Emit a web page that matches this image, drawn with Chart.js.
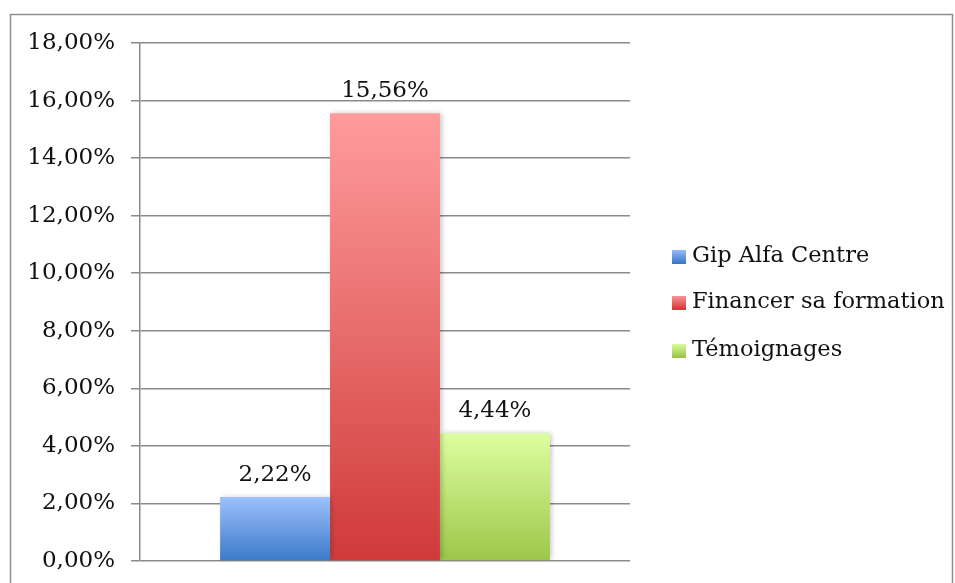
<!DOCTYPE html>
<html>
<head>
<meta charset="utf-8">
<script src="https://cdn.jsdelivr.net/npm/chart.js@4/dist/chart.umd.min.js"></script>
<style>
  html, body { margin: 0; padding: 0; background: #fff; }
  #wrap { position: relative; width: 955px; height: 583px; }
</style>
</head>
<body>
<div id="wrap"><canvas id="grafico" width="955" height="583"></canvas></div>
<script>
const categorias = [''];
const series = ['Gip Alfa Centre', 'Financer sa formation', 'Témoignages'];
const valores = [2.22, 15.56, 4.44];
const ejeY = { min: 0, max: 18, paso: 2 };

// degradados: [arriba, abajo]
const colores = [
  ['#9dc1fb', '#3b79c9'],
  ['#ff9c9c', '#cf3a39'],
  ['#deffa0', '#9cc649']
];

const FUENTE = "'DejaVu Serif', serif";
const fmt = v => v.toFixed(2).replace('.', ',') + '%';

function degradado(ctx) {
  const chart = ctx.chart;
  const par = colores[ctx.datasetIndex];
  const y = chart.scales.y;
  if (!chart.chartArea || !y) return par[0];
  const top = y.getPixelForValue(valores[ctx.datasetIndex]);
  const base = y.getPixelForValue(0);
  const g = chart.ctx.createLinearGradient(0, top, 0, base);
  g.addColorStop(0, par[0]);
  g.addColorStop(1, par[1]);
  return g;
}

const marco = {
  id: 'marco',
  beforeDraw(chart) {
    const c = chart.ctx;
    c.save();
    c.strokeStyle = '#8e8e8e';
    c.lineWidth = 1.5;
    c.strokeRect(10.5, 14.5, 942, 600);
    c.restore();
  }
};

const sombra = {
  id: 'sombra',
  beforeDatasetDraw(chart) {
    const c = chart.ctx;
    c.save();
    c.shadowColor = 'rgba(0,0,0,0.22)';
    c.shadowBlur = 5;
    c.shadowOffsetX = 2;
    c.shadowOffsetY = 0;
  },
  afterDatasetDraw(chart) {
    chart.ctx.restore();
  }
};

const etiquetas = {
  id: 'etiquetas',
  afterDatasetsDraw(chart) {
    const c = chart.ctx;
    c.save();
    c.font = '23px ' + FUENTE;
    c.fillStyle = '#111';
    c.textAlign = 'center';
    c.textBaseline = 'alphabetic';
    chart.data.datasets.forEach((ds, i) => {
      const el = chart.getDatasetMeta(i).data[0];
      c.fillText(fmt(ds.data[0]), el.x, el.y - 16);
    });
    c.restore();
  }
};

const leyenda = {
  id: 'leyenda',
  afterDraw(chart) {
    const c = chart.ctx;
    const ys = [256, 302, 350];
    c.save();
    c.font = '22.5px ' + FUENTE;
    c.fillStyle = '#111';
    c.textBaseline = 'middle';
    chart.data.datasets.forEach((ds, i) => {
      const y = ys[i];
      const g = c.createLinearGradient(0, y - 7, 0, y + 7);
      g.addColorStop(0, colores[i][0]);
      g.addColorStop(1, colores[i][1]);
      c.fillStyle = g;
      c.fillRect(672, y - 6, 14, 14);
      c.fillStyle = '#111';
      c.fillText(ds.label, 692, y);
    });
    c.restore();
  }
};

new Chart(document.getElementById('grafico'), {
  type: 'bar',
  data: {
    labels: categorias,
    datasets: series.map((s, i) => ({
      label: s,
      data: [valores[i]],
      backgroundColor: degradado,
      borderWidth: 0,
      barPercentage: 1,
      categoryPercentage: 0.673
    }))
  },
  options: {
    responsive: false,
    animation: false,
    layout: { padding: { left: 0, top: 43, right: 325, bottom: 22 } },
    plugins: {
      legend: { display: false },
      tooltip: { enabled: false }
    },
    scales: {
      x: { display: false },
      y: {
        min: ejeY.min,
        max: ejeY.max,
        afterFit(scale) {
          scale.width = 140;
          scale.paddingTop = 0;
          scale.paddingBottom = 0;
        },
        border: { display: true, color: '#8a8a8a', width: 1.5 },
        grid: { color: '#8a8a8a', lineWidth: 1.5, tickLength: 9, drawTicks: true },
        ticks: {
          stepSize: ejeY.paso,
          padding: 16,
          color: '#111',
          font: { family: FUENTE, size: 23 },
          callback: v => fmt(v)
        }
      }
    }
  },
  plugins: [marco, sombra, etiquetas, leyenda]
});
</script>
</body>
</html>
